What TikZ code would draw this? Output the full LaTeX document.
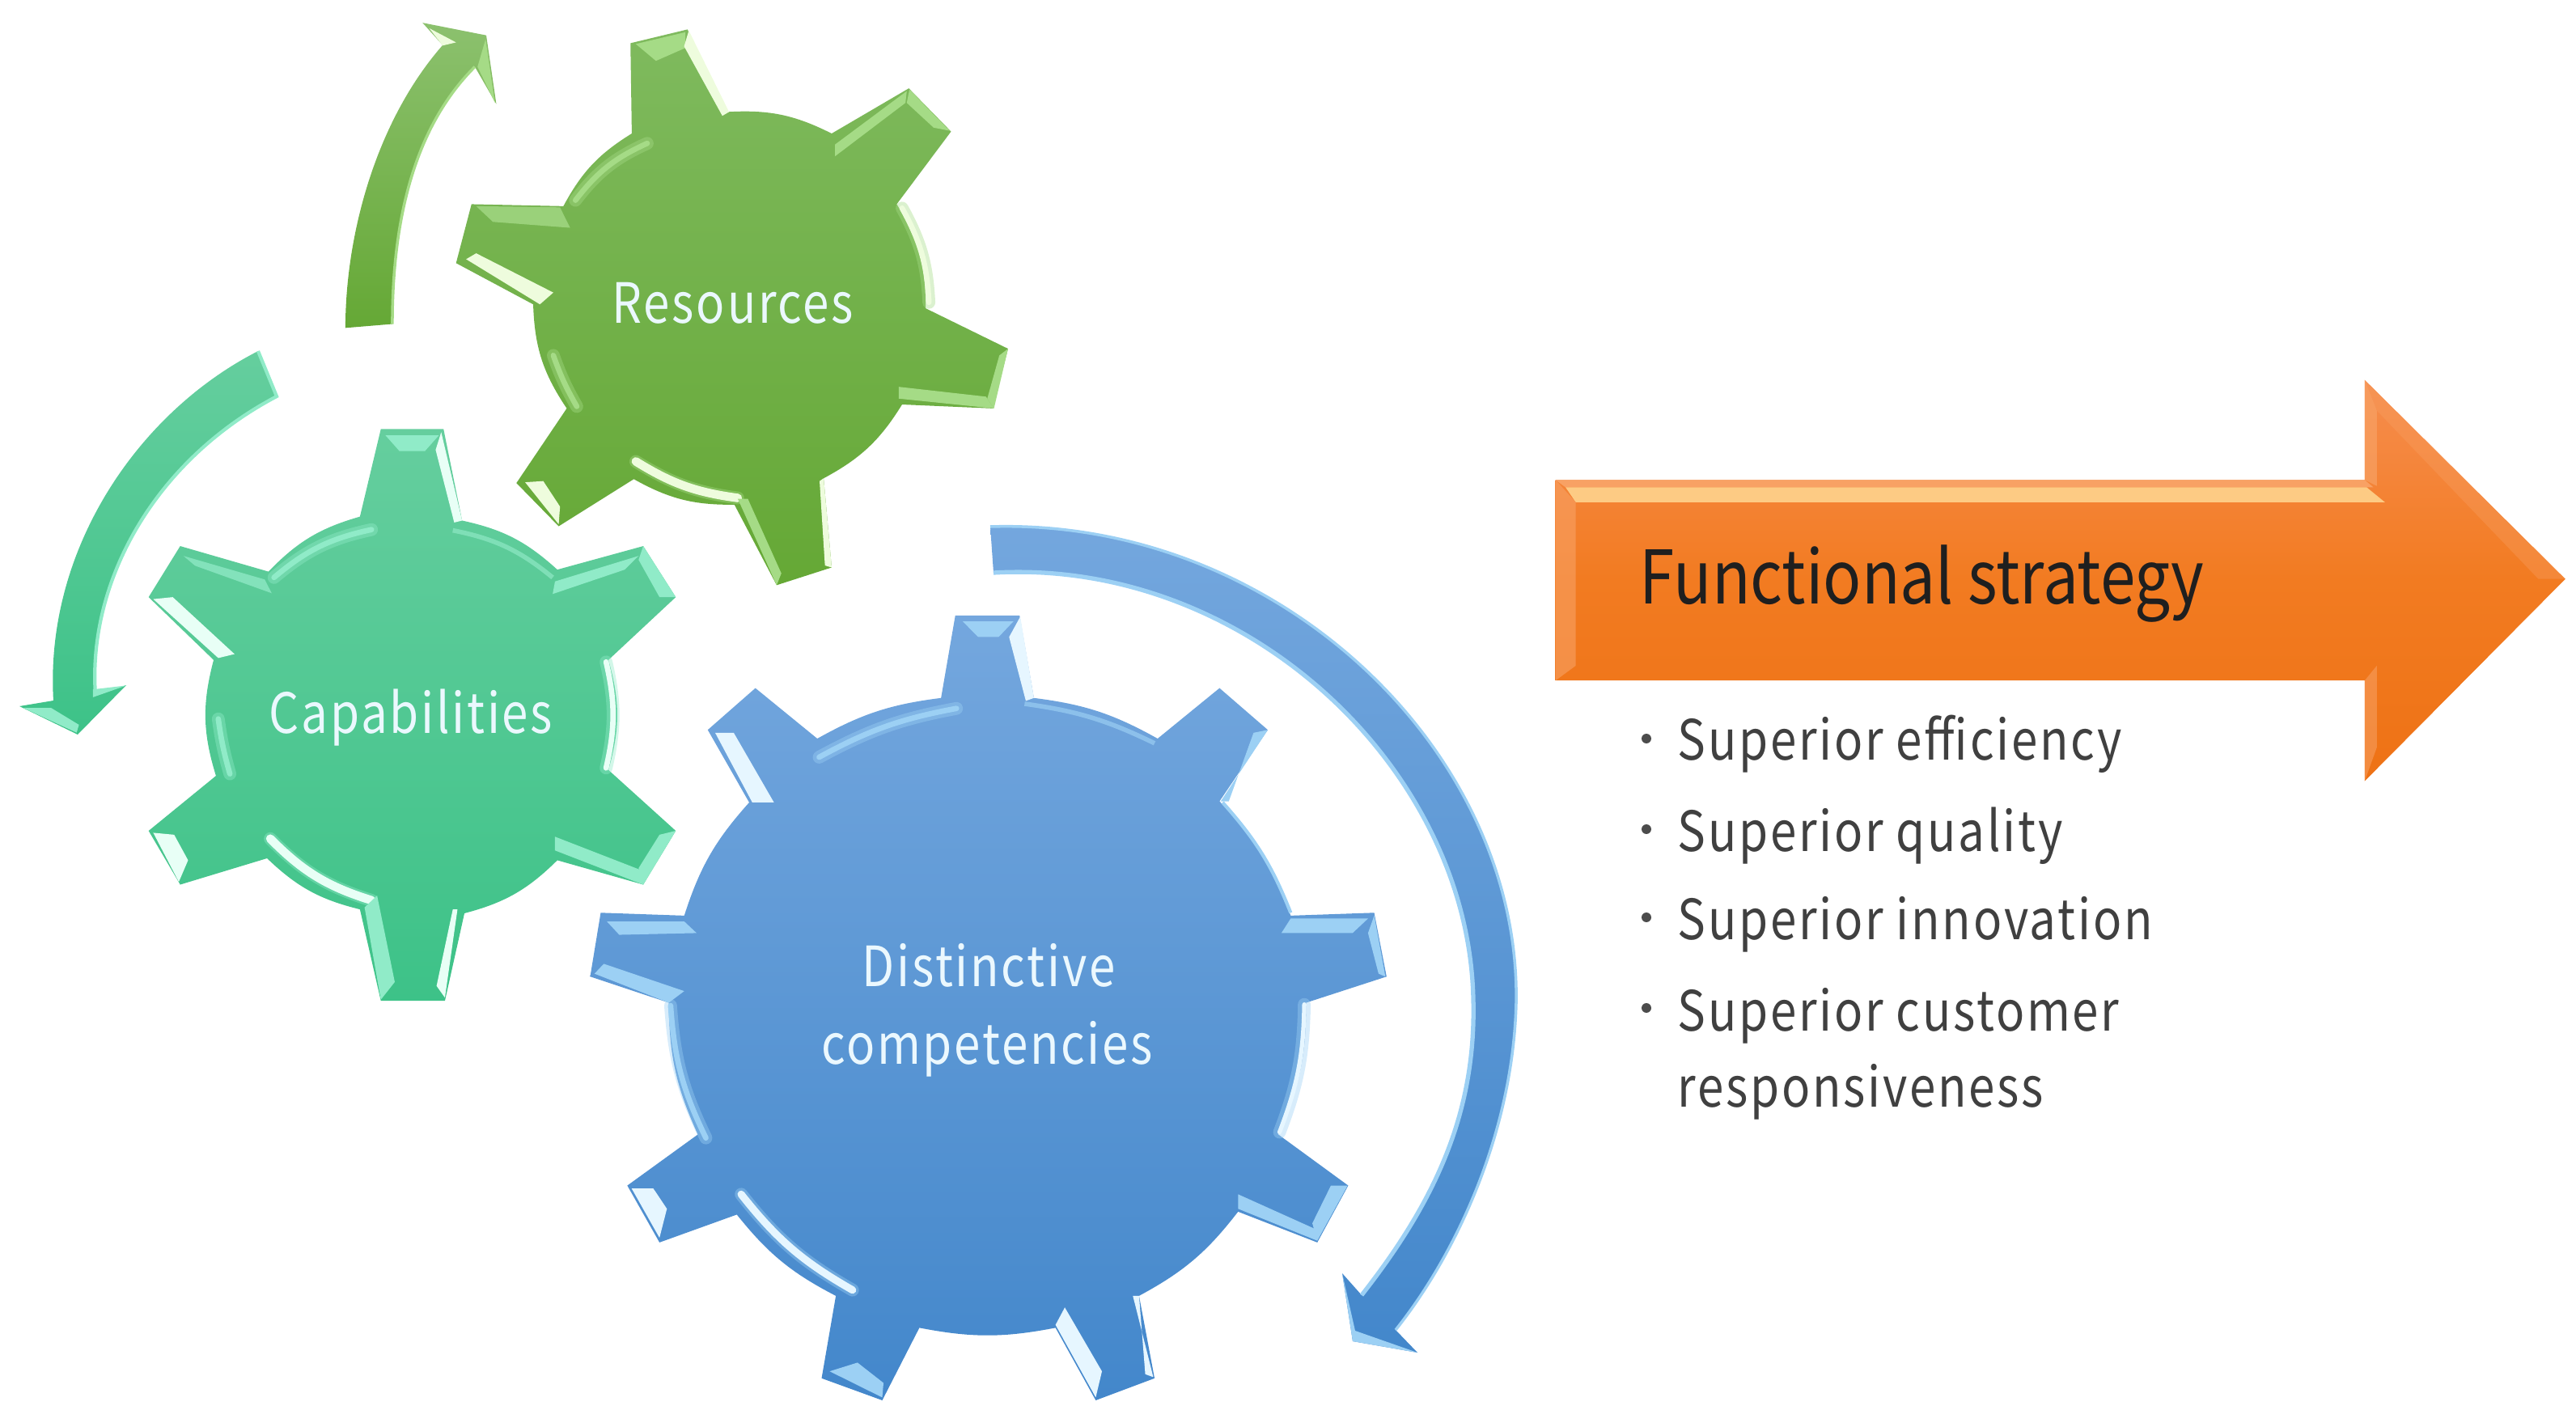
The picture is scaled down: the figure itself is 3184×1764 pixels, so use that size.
\documentclass[tikz,border=0pt]{standalone}
\usepackage{fontspec}
\setmainfont[FakeStretch=0.855]{Noto Sans CJK JP}
\newfontfamily\lbl[LetterSpace=4,FakeStretch=0.85]{Noto Sans CJK JP}
\definecolor{gTop}{HTML}{7FBA5E}\definecolor{gBot}{HTML}{65A835}\definecolor{gHi}{HTML}{EEFCDD}\definecolor{gMd}{HTML}{A5DB86}
\definecolor{tTop}{HTML}{65CE9E}\definecolor{tBot}{HTML}{3DC288}\definecolor{tHi}{HTML}{E8FFF6}\definecolor{tMd}{HTML}{90EBC8}
\definecolor{bTop}{HTML}{74A7DE}\definecolor{bBot}{HTML}{4387CB}\definecolor{bHi}{HTML}{E6F6FF}\definecolor{bMd}{HTML}{9CD0F4}
\definecolor{oTop}{HTML}{F68D4E}\definecolor{oMid}{HTML}{F27B21}\definecolor{oBot}{HTML}{EE7215}\definecolor{oMd}{HTML}{F8A164}\definecolor{oHi}{HTML}{FDCB84}
\tikzset{
  pxs/.style={x=0.01cm,y=-0.01cm},
  zA/.style={x=0.008292cm,y=-0.004847cm},
  zB/.style={x=0.00574cm,y=-0.004847cm,shift={(0,-5cm)}},
  zC/.style={x=0.00765cm,y=-0.007169cm,shift={(7cm,-6.4cm)}},
  zD/.style={x=0.008316cm,y=-0.006124cm,shift={(18.8cm,-4.4cm)}},
  softhi/.style={preaction={draw=#1,draw opacity=.4,line width=4.5pt,line cap=round}},
  green/.style={hl/.style={fill=gHi},md/.style={fill=gMd},hlarc/.style={draw=gHi,line width=1.9pt,line cap=round,softhi=gMd},mdarc/.style={draw=gMd,line width=1.9pt,line cap=round,softhi=gMd}},
  teal/.style={hl/.style={fill=tHi},md/.style={fill=tMd},hlarc/.style={draw=tHi,line width=1.9pt,line cap=round,softhi=tMd},mdarc/.style={draw=tMd,line width=1.9pt,line cap=round,softhi=tMd}},
  blue/.style={hl/.style={fill=bHi},md/.style={fill=bMd},hlarc/.style={draw=bHi,line width=1.9pt,line cap=round,softhi=bMd},mdarc/.style={draw=bMd,line width=1.9pt,line cap=round,softhi=bMd}},
  gearlabel/.style={font=\lbl\fontsize{19.5pt}{19.5pt}\selectfont,text=white!92!cyan,anchor=base,inner sep=0pt},
  listitem/.style={font=\lbl\fontsize{19.5pt}{19.5pt}\selectfont,text=black!75,anchor=base west,inner sep=0pt},
  dotb/.style={fill=black!70,circle,inner sep=0pt,minimum size=3.4pt},
}
\begin{document}
\begin{tikzpicture}[pxs]
\useasboundingbox (0,0) rectangle (3184,1764);

% ---- Green arrow and Resources gear
\begin{scope}[zA,green]
\shade[top color=gTop!90!white,bottom color=gBot] (515,835) .. controls (515,600) and (560,310) .. (660,115) -- (630,58) -- (725,90) -- (740,265) -- (708,170) .. controls (620,320) and (585,550) .. (585,825) -- cycle;
\draw[gMd,line width=1pt] (708,170) .. controls (620,320) and (585,550) .. (585,825);
\fill[hl] (640,72) -- (680,108) -- (660,116) -- cycle;
\fill[md] (712,170) -- (738,262) -- (724,100) -- cycle;
\shade[top color=gTop,bottom color=gBot]
 (940,110) -- (1025,75) -- (1085,285) to[bend left=15] (1240,340) -- (1355,225) -- (1418,335) -- (1337,520)
 to[bend left=16] (1380,785) -- (1503,888) -- (1480,1040) -- (1345,1030) to[bend left=15] (1228,1218)
 -- (1240,1445) -- (1158,1490) -- (1095,1285) to[bend left=15] (945,1220) -- (833,1340) -- (770,1230) -- (845,1040)
 to[bend left=16] (795,775) -- (680,670) -- (703,520) -- (840,525) to[bend left=15] (942,340) -- cycle;
\fill[md] (948,112) -- (1022,82) -- (1022,122) -- (978,155) -- cycle;
\fill[hl] (1027,78) -- (1087,285) -- (1077,295) -- (1020,118) -- cycle;
\draw[mdarc] (965,365) to[bend right=14] (858,510);
\fill[md] (1245,368) -- (1352,232) -- (1350,262) -- (1245,398) -- cycle;
\fill[md] (1356,228) -- (1416,333) -- (1392,325) -- (1352,262) -- cycle;
\draw[hlarc] (1345,530) to[bend left=13] (1385,770);
\fill[md] (1340,985) -- (1470,1010) -- (1482,1040) -- (1340,1015) -- cycle;
\fill[md] (1503,888) -- (1482,1040) -- (1472,1015) -- (1490,905) -- cycle;
\draw[mdarc] (825,905) to[bend right=5] (860,1035);
\draw[hlarc,line width=3pt] (948,1175) to[bend right=12] (1100,1268);
\fill[md] (1100,1270) -- (1158,1490) -- (1165,1460) -- (1115,1270) -- cycle;
\fill[hl] (1228,1218) -- (1240,1445) -- (1230,1440) -- (1222,1225) -- cycle;
\fill[hl] (783,1228) -- (833,1335) -- (835,1290) -- (810,1225) -- cycle;
\fill[hl] (695,660) -- (710,645) -- (825,745) -- (805,775) -- cycle;
\fill[gMd!70!gTop] (710,525) -- (835,528) -- (850,580) -- (735,565) -- cycle;
\end{scope}

% ---- Teal arrow and Capabilities gear
\begin{scope}[teal]
\shade[top color=tTop,bottom color=tBot] (319,434) .. controls (170,510) and (55,680) .. (66,866) -- (24,873) -- (96,908) -- (156,847) -- (118,859) .. controls (108,720) and (190,570) .. (342,490) -- cycle;
\draw[tMd,line width=1.2pt] (118,859) .. controls (108,720) and (190,570) .. (342,490) -- (319,434);
\end{scope}
\begin{scope}[zB,teal]
\fill[md] (50,772) -- (165,835) -- (170,815) -- (110,772) -- cycle;
\fill[md] (200,745) -- (272,715) -- (200,725) -- cycle;
\shade[top color=tTop,bottom color=tBot]
 (775,285) -- (820,62) -- (955,62) -- (995,295) to[bend left=15] (1200,420) -- (1385,360) -- (1455,490) -- (1310,650)
 to[bend left=16] (1310,930) -- (1455,1085) -- (1385,1222) -- (1200,1160) to[bend left=15] (1000,1295)
 -- (958,1518) -- (820,1518) -- (775,1285) to[bend left=15] (575,1155) -- (388,1222) -- (320,1085) -- (465,945)
 to[bend left=16] (460,650) -- (320,490) -- (388,360) -- (578,425) to[bend left=15] (775,285) -- cycle;
\fill[md] (830,78) -- (945,78) -- (915,118) -- (860,118) -- cycle;
\fill[hl] (950,70) -- (995,295) -- (978,300) -- (938,115) -- cycle;
\draw[mdarc] (800,318) to[bend right=14] (590,440);
\draw[tMd!60!tTop,line width=1.6pt] (975,320) to[bend left=14] (1190,440);
\fill[md] (1195,450) -- (1375,385) -- (1345,420) -- (1190,482) -- cycle;
\fill[md] (1385,360) -- (1455,490) -- (1420,490) -- (1375,395) -- cycle;
\draw[hlarc] (1305,655) to[bend left=13] (1305,925);
\fill[md] (1195,1100) -- (1380,1185) -- (1385,1222) -- (1195,1135) -- cycle;
\fill[md] (1455,1085) -- (1385,1222) -- (1375,1180) -- (1420,1095) -- cycle;
\draw[mdarc] (470,800) to[bend right=4] (495,940);
\draw[hlarc,line width=3pt] (582,1105) to[bend right=14] (800,1262);
\fill[md] (785,1280) -- (820,1515) -- (850,1470) -- (812,1250) -- cycle;
\fill[hl] (985,1285) -- (958,1510) -- (940,1480) -- (975,1285) -- cycle;
\fill[hl] (330,1090) -- (385,1215) -- (405,1160) -- (375,1095) -- cycle;
\fill[hl] (330,495) -- (372,490) -- (505,635) -- (470,645) -- cycle;
\fill[tMd!70!tTop] (395,385) -- (570,445) -- (585,480) -- (420,410) -- cycle;
\end{scope}

% ---- Blue arrow and Distinctive gear
\begin{scope}[blue]
\shade[top color=bTop,bottom color=bBot] (1224,651) .. controls (1580,640) and (1880,930) .. (1874,1240) .. controls (1870,1400) and (1800,1550) .. (1725,1644) -- (1752,1672) -- (1672,1658) -- (1659,1574) -- (1683,1601) .. controls (1770,1490) and (1825,1380) .. (1821,1235) .. controls (1815,950) and (1540,690) .. (1228,708) -- cycle;
\draw[bMd,line width=1.5pt] (1683,1601) .. controls (1770,1490) and (1825,1380) .. (1821,1235) .. controls (1815,950) and (1540,690) .. (1228,708);
\draw[bMd,line width=1pt] (1224,651) .. controls (1580,640) and (1880,930) .. (1874,1240) .. controls (1870,1400) and (1800,1550) .. (1725,1644);
\fill[bMd] (1659,1574) -- (1672,1658) -- (1752,1672) -- (1675,1645) -- cycle;
\end{scope}
\begin{scope}[zC,blue]
\shade[top color=bTop,bottom color=bBot]
 (605,310) -- (628,168) -- (732,168) -- (755,310) to[bend left=11] (955,380) -- (1055,293) -- (1133,365) -- (1055,488)
 to[bend left=12] (1170,685) -- (1305,680) -- (1325,790) -- (1195,835) to[bend left=12] (1150,1062)
 -- (1263,1150) -- (1213,1248) -- (1085,1195) to[bend left=12] (925,1340) -- (950,1482) -- (855,1520) -- (790,1395)
 to[bend left=11] (570,1395) -- (510,1520) -- (412,1482) -- (435,1340) to[bend left=12] (275,1200)
 -- (150,1248) -- (98,1150) -- (212,1062) to[bend left=12] (165,835) -- (38,790) -- (55,680) -- (190,685)
 to[bend left=12] (295,490) -- (228,365) -- (305,293) -- (405,380) to[bend left=11] (605,310) -- cycle;
\fill[md] (640,178) -- (722,178) -- (698,205) -- (665,205) -- cycle;
\fill[hl] (733,170) -- (755,310) -- (742,315) -- (715,205) -- cycle;
\draw[mdarc] (630,328) to[bend right=9] (408,412);
\draw[bMd!60!bTop,line width=1.6pt] (740,320) to[bend left=9] (950,388);
\fill[md] (1133,365) -- (1057,488) -- (1070,488) -- (1110,370) -- cycle;
\draw[bMd,line width=1.2pt] (1060,490) to[bend left=10] (1170,680);
\fill[md] (1155,715) -- (1170,690) -- (1295,690) -- (1270,715) -- cycle;
\fill[md] (1305,685) -- (1323,790) -- (1312,785) -- (1295,715) -- cycle;
\draw[hlarc,line width=1.5pt] (1192,838) to[bend left=10] (1152,1058);
\fill[md] (1085,1165) -- (1210,1225) -- (1213,1245) -- (1085,1190) -- cycle;
\fill[md] (1262,1150) -- (1213,1245) -- (1205,1215) -- (1235,1150) -- cycle;
\fill[hl] (790,1390) -- (855,1515) -- (865,1470) -- (805,1360) -- cycle;
\fill[hl] (915,1340) -- (948,1480) -- (935,1475) -- (925,1340) -- cycle;
\draw[hlarc,line width=2.6pt] (282,1165) to[bend right=11] (462,1330);
\fill[md] (425,1470) -- (510,1515) -- (512,1490) -- (470,1455) -- cycle;
\fill[hl] (105,1155) -- (150,1240) -- (162,1190) -- (140,1155) -- cycle;
\draw[mdarc] (168,840) to[bend right=11] (225,1068);
\fill[md] (65,695) -- (190,695) -- (210,715) -- (85,718) -- cycle;
\fill[md] (45,785) -- (60,768) -- (190,815) -- (165,835) -- cycle;
\fill[hl] (240,370) -- (270,370) -- (335,490) -- (300,490) -- cycle;
\end{scope}

% ---- Orange arrow
\begin{scope}[zD]
\shade[top color=oTop,bottom color=oBot,middle color=oMid] (50,250) -- (1252,250) -- (1252,48) -- (1550,450) -- (1252,858) -- (1252,655) -- (50,655) -- cycle;
\fill[oMd] (50,250) -- (1252,250) -- (1265,265) -- (65,265) -- cycle;
\fill[oHi] (65,265) -- (1255,265) -- (1282,295) -- (80,295) -- cycle;
\fill[oMd,opacity=.6] (50,250) -- (80,295) -- (80,625) -- (50,655) -- cycle;
\fill[oMd,opacity=.7] (1252,48) -- (1270,110) -- (1270,262) -- (1252,250) -- cycle;
\fill[oMd,opacity=.55] (1252,655) -- (1270,625) -- (1270,790) -- (1252,858) -- cycle;
\fill[oMd,opacity=.35] (1252,48) -- (1550,450) -- (1510,450) -- (1270,110) -- cycle;
\end{scope}

% ---- Labels
\node[gearlabel] (res) at (906,400) {Resources};
\node[gearlabel] (capa) at (508,906) {Capabilities};
\node[gearlabel] (dist) at (1222,1219) {Distinctive};
\node[gearlabel] (comp) at (1220,1315) {competencies};
\node[font=\fontsize{26pt}{26pt}\selectfont,text=black!88,anchor=base west,inner sep=0pt] (func) at (2026,746) {Functional strategy};
\node[dotb] (b1) at (2035,913) {};
\node[dotb] (b2) at (2035,1025) {};
\node[dotb] (b3) at (2035,1134) {};
\node[dotb] (b4) at (2035,1246) {};
\node[listitem] (i1) at (2073,939) {Superior efficiency};
\node[listitem] (i2) at (2073,1052) {Superior quality};
\node[listitem] (i3) at (2073,1161) {Superior innovation};
\node[listitem] (i4) at (2073,1274) {Superior customer};
\node[listitem] (i5) at (2073,1368) {responsiveness};
\end{tikzpicture}
\end{document}
